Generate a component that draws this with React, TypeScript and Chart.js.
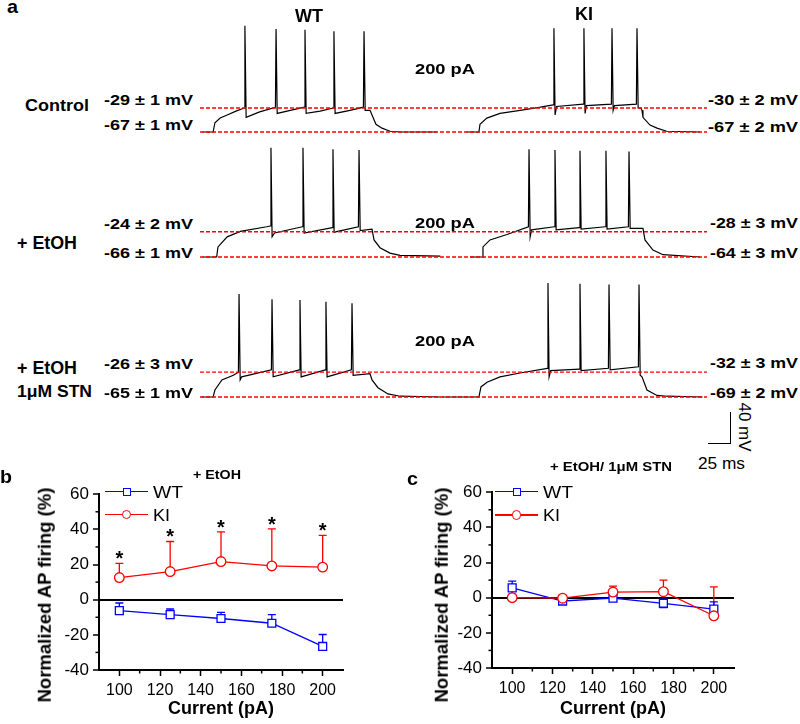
import React, { useEffect, useLayoutEffect, useRef } from 'react';
import { Chart, registerables } from 'chart.js';

Chart.register(...registerables);

const FONT = '"Liberation Sans", Arial, Helvetica, sans-serif';
Chart.defaults.font.family = FONT;
Chart.defaults.color = '#000';

type Pt = [number, number];

// ---------------- Panel a: membrane potential traces (time ms, potential mV) ----------------
const TRACE_WT_CONTROL: Pt[] = [
  [3, -67], [15, -67], [17, -55], [23, -49], [31, -45], [41, -40], [50.5, -36], [51.2, 70], [52.6, -48],
  [68, -41], [86, -35], [86.7, 66], [88, -43], [103, -39], [119, -35], [119.7, 65], [121, -43],
  [137, -40], [152, -36], [152.7, 63], [154, -43], [171, -39], [186.3, -35], [187, 63], [188.3, -39],
  [193.8, -39], [196.1, -45], [200.6, -57], [207.5, -62], [216.6, -66], [228, -67], [270, -67],
];
const TRACE_KI_CONTROL: Pt[] = [
  [304, -67], [318, -67], [319.2, -57], [327, -49], [342, -43], [365, -39], [388, -35], [402.8, -32],
  [403.5, 67], [404.8, -45], [406.5, -34], [437, -31], [437.7, 67], [439, -43], [440.5, -33],
  [469, -31], [469.7, 67], [471, -39], [472.5, -33], [497.5, -31], [498.2, 67], [499.5, -36],
  [502.7, -36], [503.9, -39], [505, -48], [513, -58], [521, -62], [532, -66], [570, -67],
];
const TRACE_WT_ETOH: Pt[] = [
  [3, -66], [19, -66], [20.5, -53], [31, -40], [46, -33], [76, -27], [80.2, -26], [80.9, 75], [82.2, -40],
  [85, -35], [116.7, -27], [117.4, 75], [118.7, -35], [150.9, -28], [151.6, 73], [152.9, -34],
  [180.6, -27], [181.3, 72], [182.6, -32], [196.1, -30], [198.4, -44], [205.2, -54], [216.6, -61],
  [228, -64], [274, -65],
];
const TRACE_KI_ETOH: Pt[] = [
  [308, -66], [321.5, -66], [322.6, -53], [330.6, -44], [350, -37], [374.4, -27], [375.1, 73], [376.4, -40],
  [378, -31], [404, -27], [404.7, 72], [406, -31], [432.5, -28], [433.2, 71], [434.5, -30], [462.1, -27],
  [462.8, 71], [464.1, -30], [488.4, -27], [489.1, 70], [490.4, -29], [505, -29], [507.3, -44],
  [516.4, -57], [527.8, -63], [570, -66],
];
const TRACE_WT_STN: Pt[] = [
  [2, -65], [15, -65], [17, -56], [25, -43], [38, -37], [43.8, -33], [44.5, 68], [45.8, -43], [47.5, -39],
  [81.4, -30], [82.1, 61], [83.4, -39], [113.3, -30], [114, 60], [115.3, -39], [142.9, -30], [143.6, 58],
  [144.9, -39], [172.6, -30], [173.3, 56], [174.6, -37], [193.8, -35], [196.1, -43], [202.9, -53],
  [214.3, -61], [228, -64], [274, -65],
];
const TRACE_KI_STN: Pt[] = [
  [276, -65], [318, -65], [320.3, -52], [327.2, -46], [342, -39], [364.8, -34], [396, -28], [396.7, 82],
  [398, -39], [399.8, -31], [432.5, -29], [433.2, 81], [434.5, -31], [465.6, -28], [466.3, 80],
  [467.6, -30], [499.8, -26], [500.5, 80], [501.8, -37], [503.9, -39], [509.6, -56], [521, -63],
  [532.4, -64], [573, -65],
];
// dashed reference levels (mV) per row: [plateau, rest]
const LEVELS_CONTROL = [-36, -67];
const LEVELS_ETOH = [-33.4, -66];
const LEVELS_STN = [-33, -65];
const TRACE_T_MAX = 578;

// ---------------- Panels b, c: normalized AP firing ----------------
const CURRENTS = [100, 125, 150, 175, 200];
const B_WT = [-6.2, -8.5, -10.7, -13.4, -26.6];
const B_WT_ERR_UP = [4.3, 3.2, 3.5, 4.9, 6.8];
const B_KI = [12.6, 16.0, 21.7, 19.2, 18.5];
const B_KI_ERR_UP = [8.1, 17.1, 16.9, 21.1, 18.1];
const B_SIGNIFICANT = [true, true, true, true, true];
const C_WT = [5.6, -1.9, -0.3, -3.2, -6.5];
const C_WT_ERR = [3.8, 1.0, 1.6, 2.4, 4.1];
const C_KI = [0, -0.3, 3.2, 3.4, -10.3];
const C_KI_ERR_UP = [0, 0, 3.4, 6.6, 16.5];
const X_TICKS = [100, 120, 140, 160, 180, 200];
const X_MINOR = [110, 130, 150, 170, 190];
const Y_TICKS = [-40, -20, 0, 20, 40, 60];
const Y_MINOR = [-30, -10, 10, 30, 50];

const BLUE = '#0000ff';
const RED = '#ff0000';

type LabelSpec = { t: string; x: number; b: number; s: number; w?: number; bold?: boolean };
const LABELS: LabelSpec[] = [
  { t: 'a', x: 7, b: 13, s: 19, w: 11 },
  { t: 'WT', x: 295, b: 22, s: 18, w: 28 },
  { t: 'KI', x: 575, b: 20.5, s: 18, w: 18 },
  { t: 'Control', x: 25, b: 111, s: 16.5, w: 64 },
  { t: '-29 ± 1 mV', x: 104, b: 104.3, s: 15, w: 89 },
  { t: '-67 ± 1 mV', x: 104, b: 130, s: 15, w: 89 },
  { t: '200 pA', x: 415, b: 74, s: 15, w: 60 },
  { t: '-30 ± 2 mV', x: 708, b: 105, s: 15, w: 90 },
  { t: '-67 ± 2 mV', x: 708, b: 131.7, s: 15, w: 90 },
  { t: '-24 ± 2 mV', x: 104, b: 228.3, s: 15, w: 89 },
  { t: '+ EtOH', x: 17, b: 250, s: 17.5, w: 60 },
  { t: '-66 ± 1 mV', x: 104, b: 257.3, s: 15, w: 89 },
  { t: '200 pA', x: 415, b: 228, s: 15, w: 60 },
  { t: '-28 ± 3 mV', x: 710, b: 227.3, s: 15, w: 88 },
  { t: '-64 ± 3 mV', x: 710, b: 257.3, s: 15, w: 88 },
  { t: '+ EtOH', x: 17, b: 375, s: 17.5, w: 60 },
  { t: '1μM STN', x: 17, b: 396.7, s: 16.5, w: 75 },
  { t: '-26 ± 3 mV', x: 104, b: 368.3, s: 15, w: 89 },
  { t: '-65 ± 1 mV', x: 104, b: 397.3, s: 15, w: 89 },
  { t: '200 pA', x: 415, b: 346, s: 15, w: 60 },
  { t: '-32 ± 3 mV', x: 710, b: 367.3, s: 15, w: 88 },
  { t: '-69 ± 2 mV', x: 710, b: 397.3, s: 15, w: 88 },
  { t: '25 ms', x: 698, b: 469, s: 17, w: 47, bold: false },
  { t: 'b', x: 0, b: 483, s: 19, w: 12 },
  { t: '+ EtOH', x: 193, b: 479, s: 13, w: 48 },
  { t: 'c', x: 407, b: 485, s: 19, w: 11 },
  { t: '+ EtOH/ 1μM STN', x: 550, b: 471.5, s: 13, w: 122 },
  { t: 'WT', x: 153, b: 498, s: 17, w: 30, bold: false },
  { t: 'KI', x: 153, b: 521.7, s: 17, w: 17, bold: false },
  { t: 'WT', x: 543, b: 498, s: 17, w: 30, bold: false },
  { t: 'KI', x: 543, b: 521.7, s: 17, w: 17, bold: false },
];

type RotSpec = { t: string; cx: number; cy: number; s: number; rot: number; bold: boolean };
const ROT_LABELS: RotSpec[] = [
  { t: 'Normalized AP firing (%)', cx: 45, cy: 595, s: 18.5, rot: -90, bold: true },
  { t: 'Normalized AP firing (%)', cx: 442, cy: 595, s: 18.5, rot: -90, bold: true },
  { t: '40 mV', cx: 743.5, cy: 427, s: 17, rot: 90, bold: false },
];

type LegendSpec = { x: number; y: number; color: string; marker: 'rect' | 'circle' };
const LEGEND_MARKS: LegendSpec[] = [
  { x: 105, y: 491.7, color: BLUE, marker: 'rect' },
  { x: 105, y: 514.3, color: RED, marker: 'circle' },
  { x: 495, y: 491.7, color: BLUE, marker: 'rect' },
  { x: 495, y: 515, color: RED, marker: 'circle' },
];

function Label({ t, x, b, s, w, bold = true }: LabelSpec) {
  const ref = useRef<HTMLSpanElement>(null);
  useLayoutEffect(() => {
    const el = ref.current;
    if (!el || !w) return;
    el.style.transform = 'none';
    const nat = el.getBoundingClientRect().width;
    if (nat > 0) el.style.transform = `scaleX(${w / nat})`;
  }, [w, t, s]);
  return (
    <span
      ref={ref}
      style={{
        position: 'absolute',
        left: x,
        top: b - 0.8465 * s,
        fontSize: s,
        lineHeight: `${s}px`,
        fontWeight: bold ? 700 : 400,
        whiteSpace: 'nowrap',
        transformOrigin: '0 0',
        display: 'inline-block',
        color: '#000',
      }}
    >
      {t}
    </span>
  );
}

function RotLabel({ t, cx, cy, s, rot, bold }: RotSpec) {
  return (
    <div
      style={{
        position: 'absolute',
        left: cx,
        top: cy,
        fontSize: s,
        lineHeight: `${s}px`,
        fontWeight: bold ? 700 : 400,
        whiteSpace: 'nowrap',
        transform: `translate(-50%, -50%) rotate(${rot}deg)`,
        color: '#000',
      }}
    >
      {t}
    </div>
  );
}

function ChartBox({ left, top, width, height, config }: { left: number; top: number; width: number; height: number; config: () => any }) {
  const ref = useRef<HTMLCanvasElement>(null);
  useEffect(() => {
    const chart = new Chart(ref.current as HTMLCanvasElement, config());
    return () => chart.destroy();
  }, []);
  return (
    <div style={{ position: 'absolute', left, top, width, height }}>
      <canvas ref={ref} />
    </div>
  );
}

function traceConfig(traces: Pt[][], levels: number[], yMin: number, yMax: number) {
  const datasets: any[] = [
    ...levels.map((l) => ({
      data: [{ x: 0, y: l }, { x: TRACE_T_MAX, y: l }],
      borderColor: RED,
      borderWidth: 1.3,
      borderDash: [4, 2],
      clip: false,
    })),
    ...traces.map((tr) => ({
      data: tr.map(([x, y]) => ({ x, y })),
      borderColor: '#000',
      borderWidth: 1.2,
      borderJoinStyle: 'miter',
      clip: false,
    })),
  ];
  return {
    type: 'line',
    data: { datasets },
    options: {
      animation: false,
      responsive: true,
      maintainAspectRatio: false,
      events: [],
      elements: { point: { radius: 0 }, line: { tension: 0 } },
      plugins: { legend: { display: false }, tooltip: { enabled: false } },
      layout: { padding: 0 },
      scales: {
        x: { type: 'linear', min: 0, max: TRACE_T_MAX, display: false },
        y: { type: 'linear', min: yMin, max: yMax, display: false },
      },
    },
  };
}

type Series = { values: number[]; up: number[]; down: number[]; color: string; style: 'rect' | 'circle' };

function fiConfig(series: Series[], stars: boolean[] | null, starBase: number[], yWidth: number, xHeight: number, padTop: number, padRight: number) {
  const plugin = {
    id: 'fiExtras',
    beforeDatasetsDraw(chart: any) {
      const { ctx, scales } = chart;
      const xs = scales.x, ys = scales.y;
      ctx.save();
      ctx.lineWidth = 1.3;
      series.forEach((s) => {
        ctx.strokeStyle = s.color;
        CURRENTS.forEach((c, j) => {
          const px = xs.getPixelForValue(c);
          const v = s.values[j];
          const ends: number[] = [];
          if (s.up[j] > 0) ends.push(v + s.up[j]);
          if (s.down[j] > 0) ends.push(v - s.down[j]);
          ends.forEach((e) => {
            const py0 = ys.getPixelForValue(v);
            const py1 = ys.getPixelForValue(e);
            ctx.beginPath();
            ctx.moveTo(px, py0);
            ctx.lineTo(px, py1);
            ctx.moveTo(px - 4, py1);
            ctx.lineTo(px + 4, py1);
            ctx.stroke();
          });
        });
      });
      ctx.restore();
    },
    afterDatasetsDraw(chart: any) {
      const { ctx, scales, chartArea } = chart;
      const xs = scales.x, ys = scales.y;
      ctx.save();
      ctx.strokeStyle = '#000';
      ctx.lineWidth = 1.5;
      X_MINOR.forEach((v) => {
        const px = xs.getPixelForValue(v);
        ctx.beginPath();
        ctx.moveTo(px, chartArea.bottom);
        ctx.lineTo(px, chartArea.bottom + 3.5);
        ctx.stroke();
      });
      Y_MINOR.forEach((v) => {
        const py = ys.getPixelForValue(v);
        ctx.beginPath();
        ctx.moveTo(chartArea.left - 3.5, py);
        ctx.lineTo(chartArea.left, py);
        ctx.stroke();
      });
      if (stars) {
        ctx.fillStyle = '#000';
        ctx.font = `bold 20px ${FONT}`;
        ctx.textAlign = 'center';
        ctx.textBaseline = 'alphabetic';
        stars.forEach((st, j) => {
          if (!st) return;
          ctx.fillText('*', xs.getPixelForValue(CURRENTS[j]), ys.getPixelForValue(starBase[j]) + 2);
        });
      }
      ctx.restore();
    },
  };
  return {
    type: 'line',
    data: {
      labels: CURRENTS,
      datasets: series.map((s) => ({
        data: CURRENTS.map((c, j) => ({ x: c, y: s.values[j] })),
        borderColor: s.color,
        borderWidth: 1.3,
        pointStyle: s.style,
        pointRadius: s.style === 'rect' ? 5.6 : 4.8,
        pointBorderWidth: 1.3,
        pointBorderColor: s.color,
        pointBackgroundColor: '#fff',
        tension: 0,
      })),
    },
    options: {
      animation: false,
      responsive: true,
      maintainAspectRatio: false,
      events: [],
      plugins: { legend: { display: false }, tooltip: { enabled: false } },
      layout: { padding: { top: padTop, right: padRight, left: 0, bottom: 0 } },
      scales: {
        x: {
          type: 'linear',
          min: 90,
          max: 210,
          afterBuildTicks: (a: any) => {
            a.ticks = X_TICKS.map((v) => ({ value: v }));
          },
          afterFit: (a: any) => {
            a.height = xHeight;
          },
          ticks: { font: { size: 16 }, color: '#000', padding: 5, maxRotation: 0, autoSkip: false },
          grid: { drawOnChartArea: false, drawTicks: true, tickLength: 6, tickColor: '#000', tickWidth: 1.5 },
          border: { display: true, color: '#000', width: 2 },
          title: {
            display: true,
            text: 'Current (pA)',
            color: '#000',
            font: { size: 18, weight: 'bold' },
            padding: { top: 0, bottom: 4 },
          },
        },
        y: {
          type: 'linear',
          min: -40,
          max: 60,
          afterBuildTicks: (a: any) => {
            a.ticks = Y_TICKS.map((v) => ({ value: v }));
          },
          afterFit: (a: any) => {
            a.width = yWidth;
          },
          ticks: { font: { size: 17 }, color: '#000', padding: 4 },
          grid: {
            color: (c: any) => (c.tick && c.tick.value === 0 ? '#000' : 'rgba(0,0,0,0)'),
            lineWidth: 2,
            drawTicks: true,
            tickLength: 6,
            tickColor: '#000',
            tickWidth: 1.5,
          },
          border: { display: true, color: '#000', width: 2 },
        },
      },
    },
    plugins: [plugin],
  };
}

const ZERO5 = [0, 0, 0, 0, 0];

export default function App() {
  return (
    <div
      style={{
        position: 'absolute',
        left: 0,
        top: 0,
        width: 800,
        height: 724,
        background: '#fff',
        overflow: 'hidden',
        fontFamily: FONT,
      }}
    >
      <ChartBox left={200} top={20} width={507} height={120}
        config={() => traceConfig([TRACE_WT_CONTROL, TRACE_KI_CONTROL], LEVELS_CONTROL, -77.3, 77.5)} />
      <ChartBox left={200} top={142} width={507} height={120}
        config={() => traceConfig([TRACE_WT_ETOH, TRACE_KI_ETOH], LEVELS_ETOH, -72.45, 82.35)} />
      <ChartBox left={200} top={278} width={507} height={124}
        config={() => traceConfig([TRACE_WT_STN, TRACE_KI_STN], LEVELS_STN, -71.45, 88.5)} />

      <ChartBox left={0} top={480} width={360} height={244}
        config={() =>
          fiConfig(
            [
              { values: B_KI, up: B_KI_ERR_UP, down: ZERO5, color: RED, style: 'circle' },
              { values: B_WT, up: B_WT_ERR_UP, down: ZERO5, color: BLUE, style: 'rect' },
            ],
            B_SIGNIFICANT,
            B_KI.map((v, j) => v + B_KI_ERR_UP[j]),
            99, 54, 13, 17,
          )
        } />
      <ChartBox left={400} top={478} width={400} height={246}
        config={() =>
          fiConfig(
            [
              { values: C_KI, up: C_KI_ERR_UP, down: ZERO5, color: RED, style: 'circle' },
              { values: C_WT, up: C_WT_ERR, down: C_WT_ERR, color: BLUE, style: 'rect' },
            ],
            null,
            [],
            92, 56, 13, 66,
          )
        } />

      {/* scale bar */}
      <div style={{ position: 'absolute', left: 729.5, top: 411.7, width: 1.3, height: 32.5, background: '#000' }} />
      <div style={{ position: 'absolute', left: 708, top: 443, width: 22.8, height: 1.3, background: '#000' }} />

      {/* legends */}
      {LEGEND_MARKS.map((m, i) => (
        <React.Fragment key={'lg' + i}>
          <div style={{ position: 'absolute', left: m.x, top: m.y - 0.65, width: 43, height: 1.3, background: m.color }} />
          <div
            style={{
              position: 'absolute',
              left: m.x + 21.5 - (m.marker === 'rect' ? 4 : 4.8),
              top: m.y - (m.marker === 'rect' ? 4 : 4.8),
              width: m.marker === 'rect' ? 8 : 9.6,
              height: m.marker === 'rect' ? 8 : 9.6,
              boxSizing: 'border-box',
              border: `1.3px solid ${m.color}`,
              borderRadius: m.marker === 'rect' ? 0 : '50%',
              background: '#fff',
            }}
          />
        </React.Fragment>
      ))}

      {LABELS.map((l, i) => (
        <Label key={'l' + i} {...l} />
      ))}
      {ROT_LABELS.map((l, i) => (
        <RotLabel key={'r' + i} {...l} />
      ))}
    </div>
  );
}
